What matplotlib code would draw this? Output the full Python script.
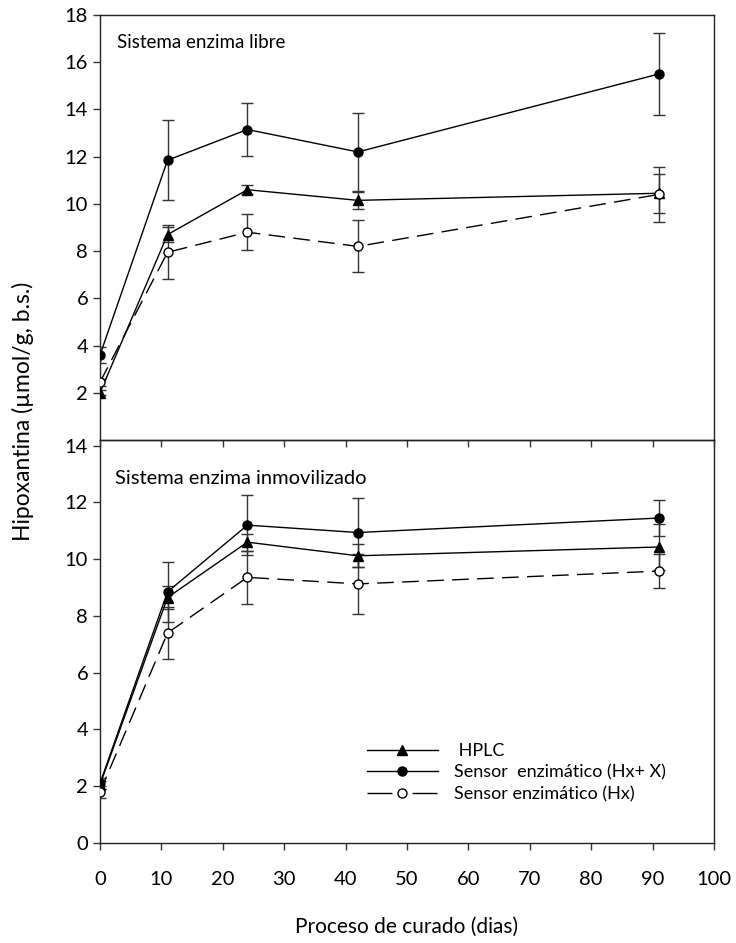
import matplotlib
matplotlib.use("Agg")
import matplotlib.pyplot as plt
from matplotlib.lines import Line2D

plt.rcParams["font.family"] = ["Lato", "DejaVu Sans"]

days = [0, 11, 24, 42, 91]

# panel 1: free enzyme system
free_hplc = [2.0, 8.7, 10.6, 10.15, 10.45]
free_hplc_err = [0.1, 0.3, 0.2, 0.37, 0.82]
free_hxx = [3.6, 11.85, 13.15, 12.2, 15.5]
free_hxx_err = [0.35, 1.7, 1.13, 1.65, 1.75]
free_hx = [2.45, 7.95, 8.8, 8.2, 10.4]
free_hx_err = [0.15, 1.15, 0.77, 1.1, 1.17]

# panel 2: immobilized enzyme system
imm_hplc = [2.05, 8.65, 10.6, 10.12, 10.43]
imm_hplc_err = [0.15, 0.4, 0.3, 0.4, 0.8]
imm_hxx = [2.1, 8.85, 11.2, 10.94, 11.45]
imm_hxx_err = [0.2, 1.05, 1.05, 1.2, 0.65]
imm_hx = [1.8, 7.4, 9.36, 9.13, 9.58]
imm_hx_err = [0.2, 0.9, 0.93, 1.05, 0.6]

series_labels = [" HPLC", "Sensor  enzimático (Hx+ X)", "Sensor enzimático (Hx)"]
x_ticks = [0, 10, 20, 30, 40, 50, 60, 70, 80, 90, 100]

W, H = 736, 943
fig = plt.figure(figsize=(W / 100, H / 100), dpi=100)
left, right = 100 / W, 714 / W
ax_bot = fig.add_axes([left, 1 - 843 / H, right - left, (843 - 440) / H])
ax_top = fig.add_axes([left, 1 - 440 / H, right - left, (440 - 15) / H])
ax_top.patch.set_alpha(0)

dash = (0, (12, 6))
styles = [
    dict(marker="^", mfc="black", ls="-"),
    dict(marker="o", mfc="black", ls="-"),
    dict(marker="o", mfc="white", ls=dash),
]


def draw_panel(ax, values, errors):
    for (vals, errs), st in zip(zip(values, errors), styles):
        ax.errorbar(days, vals, yerr=errs, color="black", lw=1.0,
                    ecolor="#333333", elinewidth=1.0, capsize=4, capthick=1.0,
                    marker=st["marker"], mfc=st["mfc"], mec="black",
                    ms=6.5, ls=st["ls"], zorder=3)
    ax.set_xlim(0, 100)
    ax.set_xticks(x_ticks)
    ax.tick_params(direction="out", length=5, width=1, labelsize=14.5, color="#333333")
    for sp in ax.spines.values():
        sp.set_linewidth(1.0)
        sp.set_color("#222222")


draw_panel(ax_top, [free_hplc, free_hxx, free_hx], [free_hplc_err, free_hxx_err, free_hx_err])
ax_top.set_ylim(0, 18)
ax_top.set_yticks([2, 4, 6, 8, 10, 12, 14, 16, 18])
ax_top.tick_params(labelbottom=False)
ax_top.text(0.027, 0.935, "Sistema enzima libre", transform=ax_top.transAxes,
            fontsize=13.5, va="center", ha="left")

draw_panel(ax_bot, [imm_hplc, imm_hxx, imm_hx], [imm_hplc_err, imm_hxx_err, imm_hx_err])
ax_bot.set_ylim(0, 14.2)
ax_bot.set_yticks([0, 2, 4, 6, 8, 10, 12, 14])
ax_bot.tick_params(axis="x", pad=15)
ax_bot.text(0.024, 0.905, "Sistema enzima inmovilizado", transform=ax_bot.transAxes,
            fontsize=14.5, va="center", ha="left")

handles = [
    Line2D([], [], color="black", lw=1.0, marker="^", mfc="black", mec="black", ms=6.5),
    Line2D([], [], color="black", lw=1.0, marker="o", mfc="black", mec="black", ms=6.5),
    Line2D([], [], color="black", lw=1.0, marker="o", mfc="white", mec="black", ms=6.5,
           ls=(0, (18, 14.4))),
]
ax_bot.legend(handles, series_labels, loc="upper left", bbox_to_anchor=(0.435, 0.2475),
              frameon=False, fontsize=13, handlelength=3.9, handletextpad=0.9,
              labelspacing=0.3, borderpad=0, borderaxespad=0)

fig.text(23 / W, 1 - 411 / H, "Hipoxantina (µmol/g, b.s.)", rotation=90,
         fontsize=16.5, va="center", ha="center")
fig.text(407 / W, 1 - 927 / H, "Proceso de curado (dias)", fontsize=15,
         va="center", ha="center")

fig.savefig("out.png", dpi=100)
